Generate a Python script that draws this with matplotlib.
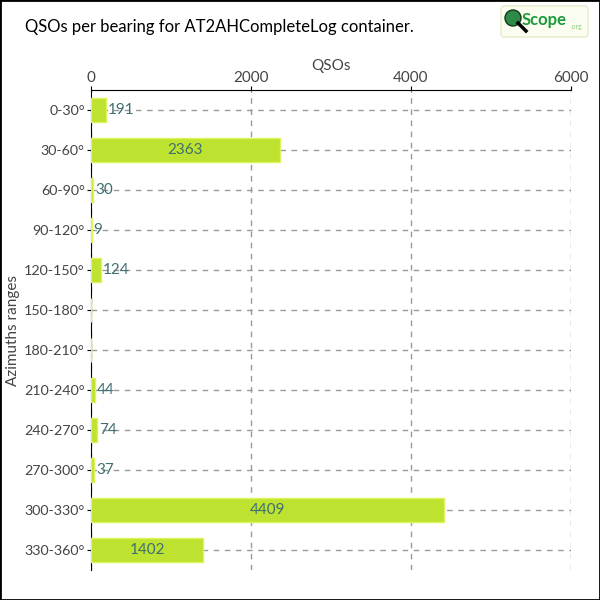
import matplotlib
matplotlib.use('Agg')
import matplotlib.pyplot as plt
from matplotlib.patches import Rectangle, FancyBboxPatch, Circle

plt.rcParams['font.family'] = ['Lato', 'DejaVu Sans']

ranges = ['0-30°', '30-60°', '60-90°', '90-120°', '120-150°', '150-180°',
          '180-210°', '210-240°', '240-270°', '270-300°', '300-330°', '330-360°']
qsos = [191, 2363, 30, 9, 124, 0, 0, 44, 74, 37, 4409, 1402]
xticks = [0, 2000, 4000, 6000]

bar_color = '#bde22f'
edge_color = '#dcf55a'
label_color = '#3f6f70'
tick_color = '#444444'

fig = plt.figure(figsize=(6, 6), dpi=100)
ax = fig.add_axes([91 / 600, 30 / 600, 480 / 600, 480 / 600])

y = list(range(len(ranges)))
ax.barh(y, qsos, height=0.6, color=bar_color, edgecolor=edge_color,
        linewidth=1, zorder=3)

for i, v in enumerate(qsos):
    if v == 0:
        continue
    if v > 1000:
        ax.text(v / 2, i, str(v), ha='center', va='center', color=label_color,
                fontsize=11, zorder=4)
    else:
        ax.text(v + 25, i, str(v), ha='left', va='center', color=label_color,
                fontsize=11, zorder=4)

ax.set_xlim(0, 6000)
ax.set_ylim(len(ranges) - 0.5, -0.5)
ax.set_yticks(y)
ax.set_yticklabels(ranges)
ax.set_xticks(xticks)
ax.xaxis.tick_top()
ax.xaxis.set_label_position('top')
ax.set_xlabel('QSOs', fontsize=11, color=tick_color, labelpad=1)
ax.set_ylabel('Azimuths ranges', fontsize=11, color=tick_color, labelpad=3)
ax.tick_params(axis='x', labelsize=11, labelcolor=tick_color, length=3,
               pad=0.5, color='black')
ax.tick_params(axis='y', labelsize=10.3, labelcolor=tick_color, length=3,
               pad=1.5, color='black')
for side in ['right', 'bottom']:
    ax.spines[side].set_visible(False)
ax.grid(True, linestyle=(0, (4, 4)), color='#999999', linewidth=1, zorder=0)
ax.set_axisbelow(True)

fig.text(25 / 600, 1 - 27 / 600, 'QSOs per bearing for AT2AHCompleteLog container.',
         fontsize=12, va='center', ha='left', color='black')

# logo
logo = FancyBboxPatch((501 / 600, 1 - 37 / 600), 87 / 600, 31 / 600,
                      boxstyle='round,pad=0,rounding_size=0.006',
                      transform=fig.transFigure, facecolor='#fbfdf0',
                      edgecolor='#e4edc8', linewidth=1)
fig.patches.append(logo)
fig.patches.append(Circle((513 / 600, 1 - 18 / 600), 8 / 600,
                          transform=fig.transFigure, facecolor='#2f8a48',
                          edgecolor='#0f3a1a', linewidth=1))
fig.lines.append(plt.Line2D([518 / 600, 526 / 600], [1 - 23 / 600, 1 - 31 / 600],
                            transform=fig.transFigure, color='black', linewidth=2.5))
fig.text(522 / 600, 1 - 20 / 600, 'Scope', fontsize=12, color='#1c9a3c',
         ha='left', va='center', fontweight='bold')
fig.text(571 / 600, 1 - 27 / 600, '.org', fontsize=5, color='#9acb8a',
         ha='left', va='center')

fig.patches.append(Rectangle((0, 0), 1, 1, transform=fig.transFigure,
                             fill=False, edgecolor='black', linewidth=2))

fig.savefig('out.png', dpi=100)
